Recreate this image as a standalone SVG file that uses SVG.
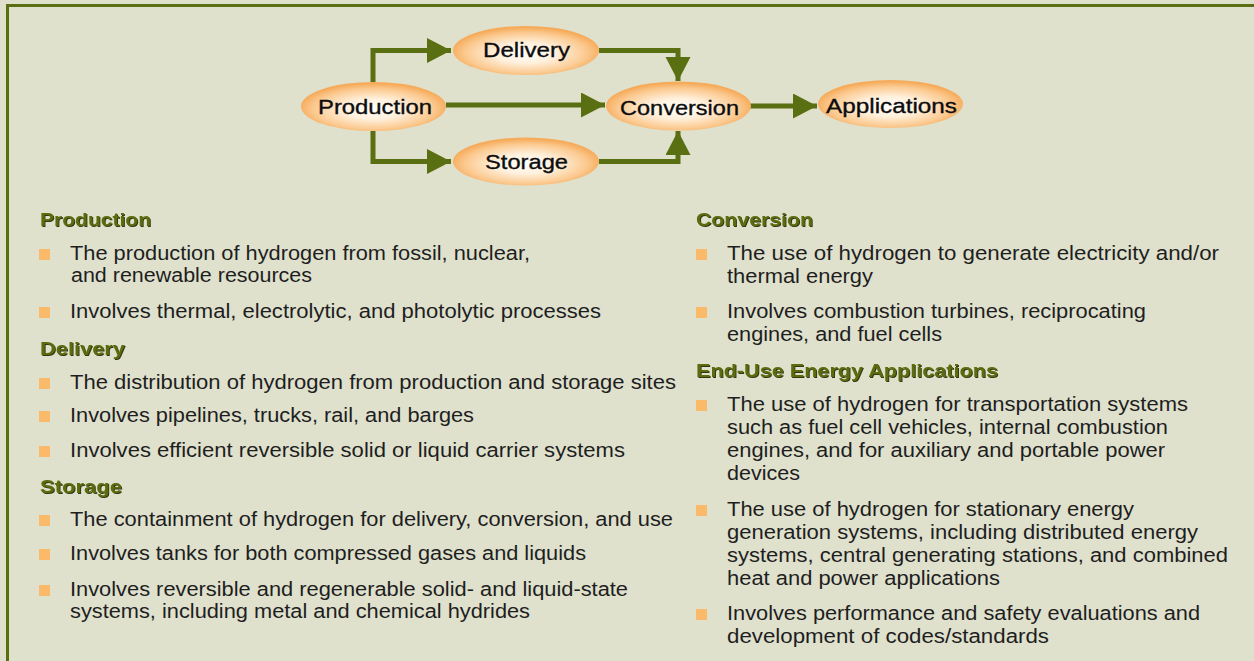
<svg xmlns="http://www.w3.org/2000/svg" width="1254" height="661" viewBox="0 0 1254 661">
<defs>
<radialGradient id="eg" cx="50%" cy="55%" r="52%">
<stop offset="0" stop-color="#ffffff"/>
<stop offset="0.4" stop-color="#fff0dc"/>
<stop offset="0.8" stop-color="#fbc98f"/>
<stop offset="1" stop-color="#f6ab5a"/>
</radialGradient>
<filter id="sh" x="-5%" y="-20%" width="110%" height="150%">
<feDropShadow dx="1" dy="1" stdDeviation="0.4" flood-color="#1e2205" flood-opacity="0.9"/>
</filter>
<marker id="ah" markerUnits="userSpaceOnUse" markerWidth="26" markerHeight="26" refX="24" refY="12.5" orient="auto" viewBox="0 0 26 26">
<path d="M0,0 L24,12.5 L0,25 Z" fill="#5a6e12"/>
</marker>
</defs>
<style>
.bg{fill:#dfe1cd}
.frame{fill:#5a6e12}
.node ellipse{fill:url(#eg)}
.node text{font-family:"Liberation Sans",Arial,sans-serif;font-size:21px;fill:#0d0d0d;stroke:#0d0d0d;stroke-width:0.35;text-anchor:middle}
.conn path{fill:none;stroke:#5a6e12;stroke-width:5;marker-end:url(#ah)}
.h{font-family:"Liberation Sans",Arial,sans-serif;font-size:19px;font-weight:bold;fill:#5b6c10;filter:url(#sh)}
.t{font-family:"Liberation Sans",Arial,sans-serif;font-size:19.5px;fill:#1e1e1e}
.b{fill:#fbb96a}
</style>
<rect class="bg" x="0" y="0" width="1254" height="661"/>
<rect class="frame" x="6" y="4" width="1248" height="3"/>
<rect class="frame" x="6" y="4" width="3" height="657"/>

<g id="connectors" class="conn">
<path d="M373,82 V50.5 H451"/>
<path d="M373,131 V161.5 H451"/>
<path d="M446,105 H605"/>
<path d="M599,50.5 H678 V81"/>
<path d="M599,161.5 H678 V131"/>
<path d="M750,106 H817"/>
</g>

<g id="node-production" class="node">
<ellipse cx="373.5" cy="106.5" rx="72.5" ry="24.5"/>
<text x="375" y="114" textLength="114" lengthAdjust="spacingAndGlyphs">Production</text>
</g>
<g id="node-delivery" class="node">
<ellipse cx="526" cy="50.5" rx="73" ry="24.5"/>
<text x="526.5" y="57" textLength="87" lengthAdjust="spacingAndGlyphs">Delivery</text>
</g>
<g id="node-storage" class="node">
<ellipse cx="526" cy="161.5" rx="73" ry="24"/>
<text x="526.5" y="169" textLength="83" lengthAdjust="spacingAndGlyphs">Storage</text>
</g>
<g id="node-conversion" class="node">
<ellipse cx="678.5" cy="106" rx="72.5" ry="24.5"/>
<text x="679.5" y="114.5" textLength="119" lengthAdjust="spacingAndGlyphs">Conversion</text>
</g>
<g id="node-applications" class="node">
<ellipse cx="890.5" cy="104" rx="72.5" ry="24"/>
<text x="891.5" y="112.5" textLength="131" lengthAdjust="spacingAndGlyphs">Applications</text>
</g>

<g id="left-column" transform="translate(0,1)">
<text class="h" x="40" y="225" textLength="111" lengthAdjust="spacingAndGlyphs">Production</text>
<rect class="b" x="39" y="248" width="11" height="11"/>
<text class="t" x="70" y="259" textLength="460" lengthAdjust="spacingAndGlyphs">The production of hydrogen from fossil, nuclear,</text>
<text class="t" x="71" y="281" textLength="241" lengthAdjust="spacingAndGlyphs">and renewable resources</text>
<rect class="b" x="39" y="306" width="11" height="11"/>
<text class="t" x="70" y="317" textLength="531" lengthAdjust="spacingAndGlyphs">Involves thermal, electrolytic, and photolytic processes</text>

<text class="h" x="40" y="354" textLength="85" lengthAdjust="spacingAndGlyphs">Delivery</text>
<rect class="b" x="39" y="377" width="11" height="11"/>
<text class="t" x="70" y="388" textLength="606" lengthAdjust="spacingAndGlyphs">The distribution of hydrogen from production and storage sites</text>
<rect class="b" x="39" y="410" width="11" height="11"/>
<text class="t" x="70" y="421" textLength="404" lengthAdjust="spacingAndGlyphs">Involves pipelines, trucks, rail, and barges</text>
<rect class="b" x="39" y="445" width="11" height="11"/>
<text class="t" x="70" y="456" textLength="555" lengthAdjust="spacingAndGlyphs">Involves efficient reversible solid or liquid carrier systems</text>

<text class="h" x="40" y="492" textLength="82" lengthAdjust="spacingAndGlyphs">Storage</text>
<rect class="b" x="39" y="514" width="11" height="11"/>
<text class="t" x="70" y="525" textLength="603" lengthAdjust="spacingAndGlyphs">The containment of hydrogen for delivery, conversion, and use</text>
<rect class="b" x="39" y="548" width="11" height="11"/>
<text class="t" x="70" y="559" textLength="516" lengthAdjust="spacingAndGlyphs">Involves tanks for both compressed gases and liquids</text>
<rect class="b" x="39" y="584" width="11" height="11"/>
<text class="t" x="70" y="595" textLength="558" lengthAdjust="spacingAndGlyphs">Involves reversible and regenerable solid- and liquid-state</text>
<text class="t" x="70" y="617" textLength="460" lengthAdjust="spacingAndGlyphs">systems, including metal and chemical hydrides</text>
</g>

<g id="right-column" transform="translate(0,1)">
<text class="h" x="696" y="225" textLength="117" lengthAdjust="spacingAndGlyphs">Conversion</text>
<rect class="b" x="696" y="248" width="11" height="11"/>
<text class="t" x="727" y="259" textLength="492" lengthAdjust="spacingAndGlyphs">The use of hydrogen to generate electricity and/or</text>
<text class="t" x="727" y="282" textLength="146" lengthAdjust="spacingAndGlyphs">thermal energy</text>
<rect class="b" x="696" y="306" width="11" height="11"/>
<text class="t" x="727" y="317" textLength="419" lengthAdjust="spacingAndGlyphs">Involves combustion turbines, reciprocating</text>
<text class="t" x="727" y="340" textLength="215" lengthAdjust="spacingAndGlyphs">engines, and fuel cells</text>

<text class="h" x="696" y="376" textLength="302" lengthAdjust="spacingAndGlyphs">End-Use Energy Applications</text>
<rect class="b" x="696" y="399" width="11" height="11"/>
<text class="t" x="727" y="410" textLength="461" lengthAdjust="spacingAndGlyphs">The use of hydrogen for transportation systems</text>
<text class="t" x="727" y="433" textLength="441" lengthAdjust="spacingAndGlyphs">such as fuel cell vehicles, internal combustion</text>
<text class="t" x="727" y="456" textLength="438" lengthAdjust="spacingAndGlyphs">engines, and for auxiliary and portable power</text>
<text class="t" x="727" y="479" textLength="73" lengthAdjust="spacingAndGlyphs">devices</text>
<rect class="b" x="696" y="504" width="11" height="11"/>
<text class="t" x="727" y="515" textLength="407" lengthAdjust="spacingAndGlyphs">The use of hydrogen for stationary energy</text>
<text class="t" x="727" y="538" textLength="471" lengthAdjust="spacingAndGlyphs">generation systems, including distributed energy</text>
<text class="t" x="727" y="561" textLength="501" lengthAdjust="spacingAndGlyphs">systems, central generating stations, and combined</text>
<text class="t" x="727" y="584" textLength="273" lengthAdjust="spacingAndGlyphs">heat and power applications</text>
<rect class="b" x="696" y="608" width="11" height="11"/>
<text class="t" x="727" y="619" textLength="473" lengthAdjust="spacingAndGlyphs">Involves performance and safety evaluations and</text>
<text class="t" x="727" y="642" textLength="322" lengthAdjust="spacingAndGlyphs">development of codes/standards</text>
</g>
</svg>
